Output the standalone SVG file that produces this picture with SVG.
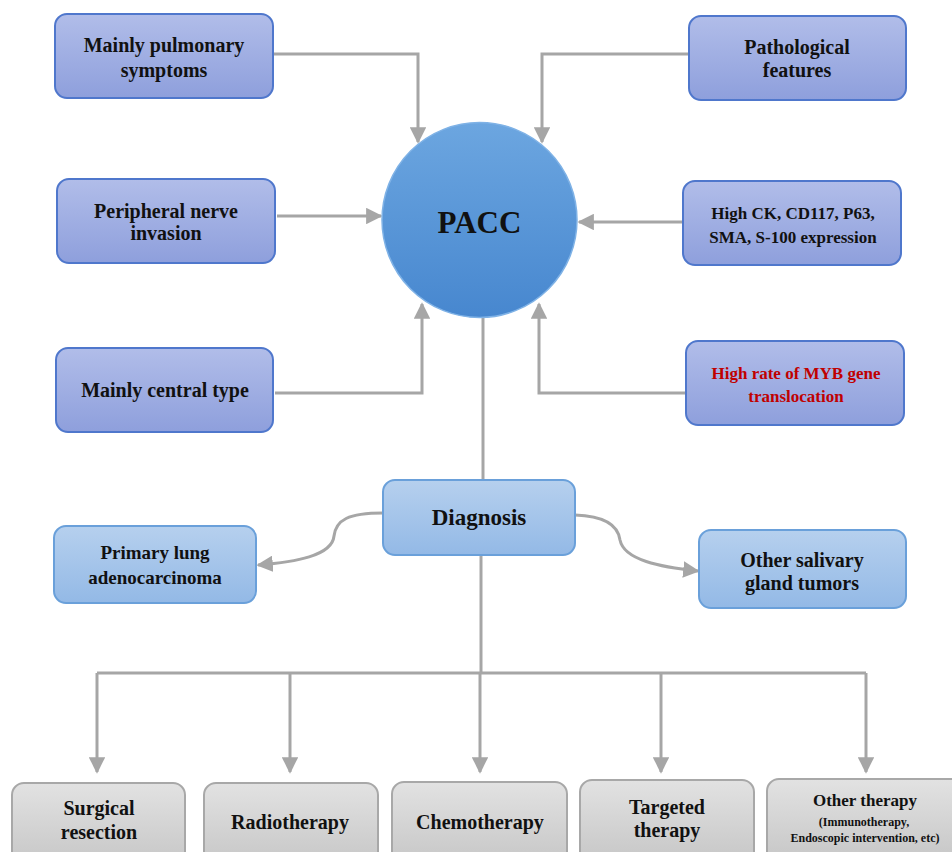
<svg xmlns="http://www.w3.org/2000/svg" width="952" height="852" viewBox="0 0 952 852">
<defs>
<linearGradient id="gPurple" x1="0" y1="0" x2="0" y2="1"><stop offset="0" stop-color="#b1bde9"/><stop offset="1" stop-color="#8e9fdc"/></linearGradient>
<linearGradient id="gBlue" x1="0" y1="0" x2="0" y2="1"><stop offset="0" stop-color="#b6d0ee"/><stop offset="1" stop-color="#93b9e6"/></linearGradient>
<linearGradient id="gGrey" x1="0" y1="0" x2="0" y2="1"><stop offset="0" stop-color="#e2e2e2"/><stop offset="1" stop-color="#c4c4c4"/></linearGradient>
<linearGradient id="gCircle" x1="0" y1="0" x2="0" y2="1"><stop offset="0" stop-color="#6ca6e0"/><stop offset="1" stop-color="#4787cf"/></linearGradient>
<marker id="arr" viewBox="0 0 10 10" refX="9" refY="5" markerWidth="5.5" markerHeight="5.5" orient="auto" markerUnits="strokeWidth"><path d="M0,0 L10,5 L0,10 z" fill="#a6a6a6"/></marker>
</defs>
<style>
.pb{fill:url(#gPurple);stroke:#4f77cc;stroke-width:2}
.bb{fill:url(#gBlue);stroke:#6aa0da;stroke-width:2}
.gb{fill:url(#gGrey);stroke:#a8a8a8;stroke-width:2}
.c{fill:none;stroke:#a6a6a6;stroke-width:3}
.a{marker-end:url(#arr)}
.red{fill:#c00000}
</style>
<rect width="952" height="852" fill="#fff"/>
<g id="connectors">
<path class="c a" d="M273,54 H418 V142"/>
<path class="c a" d="M689,54 H542 V142"/>
<path class="c a" d="M277,216 H381"/>
<path class="c a" d="M683,222 H579"/>
<path class="c a" d="M275,393 H422 V304"/>
<path class="c a" d="M686,393 H539 V304"/>
<path class="c" d="M483,317 V480"/>
<path class="c a" d="M383,513 C348,513 336,520 334,536 C332,556 295,562 258,565"/>
<path class="c a" d="M575,515 C605,516 618,525 620,540 C624,560 660,567 698,571"/>
<path class="c" d="M481,555 V673"/>
<path class="c" d="M97,673 H866"/>
<path class="c a" d="M97,673 V772"/>
<path class="c a" d="M290,673 V772"/>
<path class="c a" d="M480,673 V772"/>
<path class="c a" d="M661,673 V772"/>
<path class="c a" d="M866,673 V772"/>
</g>
<g font-family="Liberation Serif" font-weight="bold" text-anchor="middle" fill="#111" font-size="20">
<g id="pacc"><circle cx="479.5" cy="220" r="97.5" fill="url(#gCircle)" stroke="#7fb2e6" stroke-width="1.5"/><text font-family="Liberation Serif" x="479.5" y="233" font-size="31">PACC</text></g>
<g id="n-pulmonary"><rect class="pb" x="55" y="14" width="218" height="84" rx="12"/><text font-family="Liberation Serif" x="164" y="52">Mainly pulmonary</text><text font-family="Liberation Serif" x="164" y="77">symptoms</text></g>
<g id="n-pathological"><rect class="pb" x="689" y="16" width="217" height="84" rx="12"/><text font-family="Liberation Serif" x="797" y="54">Pathological</text><text font-family="Liberation Serif" x="797" y="77">features</text></g>
<g id="n-nerve"><rect class="pb" x="57" y="179" width="218" height="84" rx="12"/><text font-family="Liberation Serif" x="166" y="218">Peripheral nerve</text><text font-family="Liberation Serif" x="166" y="240">invasion</text></g>
<g id="n-ck"><rect class="pb" x="683" y="181" width="218" height="84" rx="12"/><text font-family="Liberation Serif" font-size="17" x="793" y="219">High CK, CD117, P63,</text><text font-family="Liberation Serif" font-size="17" x="793" y="243">SMA, S-100 expression</text></g>
<g id="n-central"><rect class="pb" x="56" y="348" width="217" height="84" rx="12"/><text font-family="Liberation Serif" x="165" y="397">Mainly central type</text></g>
<g id="n-myb"><rect class="pb" x="686" y="341" width="218" height="84" rx="12"/><text class="red" font-family="Liberation Serif" font-size="17" x="796" y="379">High rate of MYB gene</text><text class="red" font-family="Liberation Serif" font-size="17" x="796" y="402">translocation</text></g>
<g id="n-diagnosis"><rect class="bb" x="383" y="480" width="192" height="75" rx="12"/><text font-family="Liberation Serif" x="479" y="525" font-size="23">Diagnosis</text></g>
<g id="n-lung"><rect class="bb" x="54" y="526" width="202" height="77" rx="12"/><text font-family="Liberation Serif" x="155" y="559" font-size="19">Primary lung</text><text font-family="Liberation Serif" x="155" y="584" font-size="19">adenocarcinoma</text></g>
<g id="n-salivary"><rect class="bb" x="699" y="530" width="207" height="78" rx="12"/><text font-family="Liberation Serif" x="802" y="567">Other salivary</text><text font-family="Liberation Serif" x="802" y="590">gland tumors</text></g>
<g id="n-surgical"><rect class="gb" x="12" y="783" width="173" height="90" rx="12"/><text font-family="Liberation Serif" x="99" y="815">Surgical</text><text font-family="Liberation Serif" x="99" y="839">resection</text></g>
<g id="n-radio"><rect class="gb" x="204" y="783" width="174" height="90" rx="12"/><text font-family="Liberation Serif" x="290" y="829">Radiotherapy</text></g>
<g id="n-chemo"><rect class="gb" x="392" y="782" width="175" height="90" rx="12"/><text font-family="Liberation Serif" x="480" y="829">Chemotherapy</text></g>
<g id="n-targeted"><rect class="gb" x="580" y="780" width="174" height="90" rx="12"/><text font-family="Liberation Serif" x="667" y="814">Targeted</text><text font-family="Liberation Serif" x="667" y="837">therapy</text></g>
<g id="n-other"><rect class="gb" x="767" y="779" width="200" height="90" rx="12"/><text font-family="Liberation Serif" font-size="17" x="865" y="806">Other therapy</text><text font-family="Liberation Serif" x="864" y="826" font-size="12">(Immunotherapy,</text><text font-family="Liberation Serif" x="865" y="842" font-size="12">Endoscopic intervention, etc)</text></g>
</g>
</svg>
